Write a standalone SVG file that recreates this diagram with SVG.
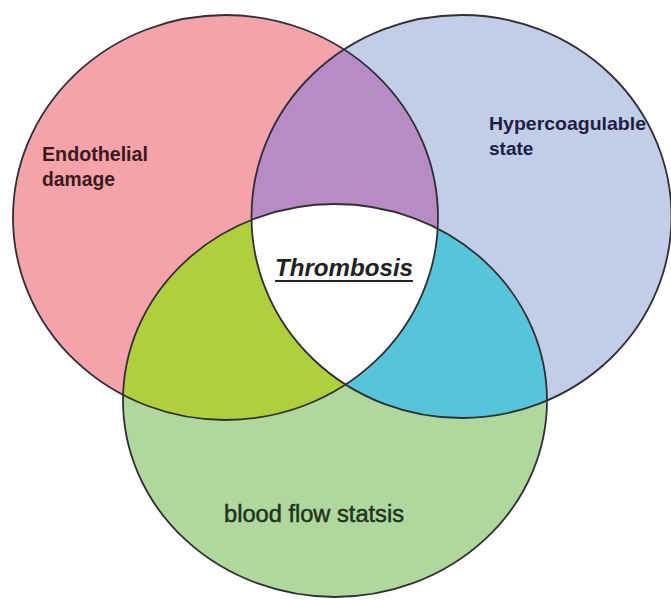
<svg xmlns="http://www.w3.org/2000/svg" width="671" height="600" viewBox="0 0 671 600">
<style>
.outline{fill:none;stroke:#2f2f35;stroke-width:1.8}
.lbl{font-family:"Liberation Sans",Arial,sans-serif;font-weight:bold}
</style>
<defs>
<clipPath id="clipRed"><ellipse cx="225.5" cy="217.5" rx="212.5" ry="202.5"/></clipPath>
<clipPath id="clipBlue"><ellipse cx="461.5" cy="216.5" rx="210" ry="201.5"/></clipPath>
</defs>
<rect width="671" height="600" fill="#ffffff"/>
<g id="set-endothelial">
<ellipse cx="225.5" cy="217.5" rx="212.5" ry="202.5" fill="#F4A3AB"/>
</g>
<g id="set-hypercoagulable">
<ellipse cx="461.5" cy="216.5" rx="210" ry="201.5" fill="#C2CDE8"/>
</g>
<g id="set-bloodflow">
<ellipse cx="335" cy="400.5" rx="212" ry="196.5" fill="#B0D89C"/>
</g>
<g id="overlap-red-blue" clip-path="url(#clipRed)">
<ellipse cx="461.5" cy="216.5" rx="210" ry="201.5" fill="#B98BC5"/>
</g>
<g id="overlap-red-green" clip-path="url(#clipRed)">
<ellipse cx="335" cy="400.5" rx="212" ry="196.5" fill="#B0CF3C"/>
</g>
<g id="overlap-blue-green" clip-path="url(#clipBlue)">
<ellipse cx="335" cy="400.5" rx="212" ry="196.5" fill="#56C5DA"/>
</g>
<g id="thrombosis">
<g clip-path="url(#clipRed)"><g clip-path="url(#clipBlue)">
<ellipse cx="335" cy="400.5" rx="212" ry="196.5" fill="#ffffff"/>
</g></g>
</g>
<g id="outlines">
<ellipse class="outline" cx="225.5" cy="217.5" rx="212.5" ry="202.5"/>
<ellipse class="outline" cx="461.5" cy="216.5" rx="210" ry="201.5"/>
<ellipse class="outline" cx="335" cy="400.5" rx="212" ry="196.5"/>
</g>
<g id="labels">
<text class="lbl" x="42" y="161" font-size="20" fill="#3a1a20" textLength="106" lengthAdjust="spacingAndGlyphs">Endothelial</text>
<text class="lbl" x="42" y="186" font-size="20" fill="#3a1a20" textLength="73" lengthAdjust="spacingAndGlyphs">damage</text>
<text class="lbl" x="489" y="130" font-size="19" fill="#1e1e44" textLength="157" lengthAdjust="spacingAndGlyphs">Hypercoagulable</text>
<text class="lbl" x="489" y="155" font-size="19" fill="#1e1e44">state</text>
<text class="lbl" x="275" y="276" font-size="23.5" font-style="italic" fill="#222222" textLength="138" lengthAdjust="spacingAndGlyphs">Thrombosis</text>
<line x1="275" y1="281" x2="413" y2="281" stroke="#222222" stroke-width="2"/>
<text x="224" y="522" font-family="'Liberation Sans',Arial,sans-serif" font-size="23.5" fill="#1f3320" stroke="#1f3320" stroke-width="0.5" textLength="180" lengthAdjust="spacingAndGlyphs">blood flow statsis</text>
</g>
</svg>
